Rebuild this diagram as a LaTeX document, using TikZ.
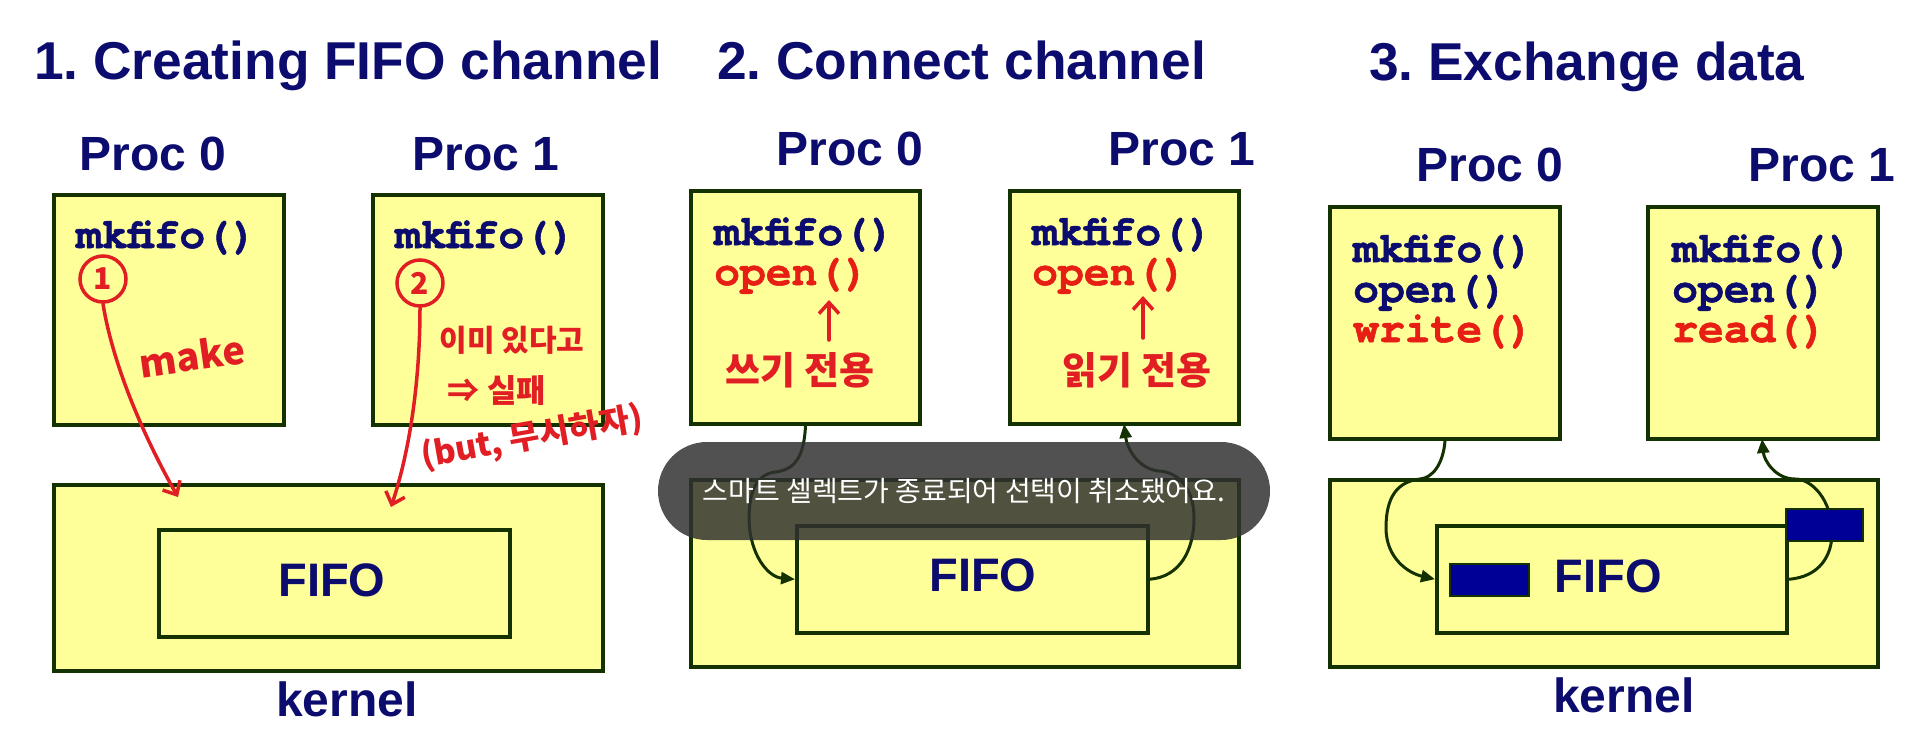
\documentclass[tikz,border=0pt]{standalone}
\usepackage{fontspec}
\setmainfont{Liberation Sans}
\newfontfamily\codefont{texgyrecursor}[Extension=.otf, UprightFont=*-regular, BoldFont=*-bold, BoldFeatures={FakeBold=1.3}]
\newfontfamily\krfont{Noto Sans CJK KR}
\usetikzlibrary{arrows.meta}
\definecolor{navy}{RGB}{12,12,110}
\definecolor{yel}{RGB}{255,255,153}
\definecolor{bdr}{RGB}{20,50,0}
\definecolor{codered}{RGB}{230,30,20}
\definecolor{hred}{RGB}{225,30,35}
\definecolor{fifoblue}{RGB}{0,0,150}
\definecolor{toastbg}{RGB}{48,48,48}
\newcommand\mybox[6]{\node[#6, minimum width={#4-#2}, minimum height={#5-#3}, anchor=north west, inner sep=0] (#1) at (#2,#3) {};}
\frenchspacing
\begin{document}
\begin{tikzpicture}[x=1pt,y=-1pt,
 procbox/.style={draw=bdr, fill=yel, line width=4pt},
 fifobox/.style={draw=bdr, fill=yel, line width=3.5pt},
 blk/.style={draw=bdr, fill=fifoblue, line width=1.5pt},
 ttl/.style={font=\fontsize{53.3}{60}\selectfont\bfseries, text=navy, inner sep=0, anchor=base west},
 proc/.style={font=\fontsize{48}{54}\selectfont\bfseries, text=navy, inner sep=0, anchor=base},
 big/.style={font=\fontsize{47}{52}\selectfont\bfseries, text=navy, inner sep=0},
 code/.style={font=\codefont\fontsize{43}{46}\selectfont\bfseries, text=navy, inner sep=0, anchor=base west},
 codeR/.style={code, text=codered},
 conn/.style={draw=bdr, line width=3pt, -{Triangle[length=14pt,width=12pt]}},
 hw/.style={draw=hred, line width=3.5pt, line cap=round, line join=round},
 harrow/.style={hw, -{Straight Barb[length=11pt,width=20pt,line width=3.5pt]}},
 htext/.style={font=\krfont\fontsize{#1}{#1}\selectfont\bfseries, text=hred, inner sep=0},
 toast/.style={fill=toastbg, fill opacity=0.84, text opacity=1, text=white, rounded corners=49pt, minimum width=612, minimum height=98, inner sep=0, font=\krfont\fontsize{28}{32}\selectfont}
]
\useasboundingbox (0,0) rectangle (1924,739);
\fill[white] (0,0) rectangle (1924,739);

% ---------- Titles ----------
\node[ttl] (t1) at (34,79) {1. Creating FIFO channel};
\node[ttl] (t2) at (717,79) {2. Connect channel};
\node[ttl] (t3) at (1369,80) {3. Exchange data};

% ---------- Panel 1 ----------
\node[proc] (l10) at (153,170) {Proc 0};
\node[proc] (l11) at (486,170) {Proc 1};
\mybox{p10}{52}{193}{282}{423}{procbox}
\mybox{p11}{371}{193}{601}{423}{procbox}
\mybox{k1}{52}{483}{601}{669}{procbox}
\mybox{f1}{157}{528}{508}{635}{fifobox}
\node[big] (ft1) at (332,580) {FIFO};
\node[proc] (kl1) at (347,716) {kernel};
\node[code] (m10) at (76,248) {mkfifo()};
\node[code] (m11) at (395,248) {mkfifo()};

% handwriting panel 1
\node[circle, draw=hred, line width=3.5pt, minimum size=46, htext=30] (c1) at (103,279) {1};
\node[circle, draw=hred, line width=3.5pt, minimum size=46, htext=30] (c2) at (420,283) {2};
\coordinate (a1) at (178,497);
\coordinate (a2) at (391,507);
\draw[harrow] (c1.south) .. controls (112,360) and (140,430) .. (a1);
\draw[harrow] (c2.south) .. controls (420,380) and (410,450) .. (a2);
\node[htext=38, rotate=8] (mk) at (192,356) {make};
\node[htext=30] (h1) at (512,340) {이미 있다고};
\node[htext=32] (h2) at (497,391) {⇒ 실패};
\node[htext=33, rotate=10] (h3) at (532,438) {(but, 무시하자)};

% ---------- Panel 2 ----------
\node[proc] (l20) at (850,165) {Proc 0};
\node[proc] (l21) at (1182,165) {Proc 1};
\mybox{p20}{689}{189}{918}{422}{procbox}
\mybox{p21}{1008}{189}{1237}{422}{procbox}
\mybox{k2}{689}{478}{1237}{665}{procbox}
\mybox{f2}{795}{524}{1146}{631}{fifobox}
\node[big] (ft2) at (983,575) {FIFO};
\node[code] (m20) at (714,245) {mkfifo()};
\node[codeR] (o20) at (714,285) {open()};
\node[code] (m21) at (1032,245) {mkfifo()};
\node[codeR] (o21) at (1032,285) {open()};
\coordinate (e21) at (1124,424);
\draw[conn] (p20.south) .. controls (804,455) and (796,470) .. (775,472)
  .. controls (752,475) and (749,500) .. (749,520)
  .. controls (750,555) and (768,577) .. (f2.west);
\draw[conn] (f2.east) .. controls (1180,577) and (1194,550) .. (1194,518)
  .. controls (1194,488) and (1178,472) .. (1159,471)
  .. controls (1138,469) and (1127,448) .. (e21);

% handwriting panel 2
\node[htext=38] (w0) at (800,370) {쓰기 전용};
\node[htext=38] (r1) at (1137,370) {읽기 전용};
\coordinate (u0) at (829,300);
\coordinate (u1) at (1143,296);
\draw[harrow] (829,340) -- (u0);
\draw[harrow] (1143,338) -- (u1);

% ---------- Panel 3 ----------
\node[proc] (l30) at (1490,181) {Proc 0};
\node[proc] (l31) at (1822,181) {Proc 1};
\mybox{p30}{1328}{205}{1558}{437}{procbox}
\mybox{p31}{1646}{205}{1876}{437}{procbox}
\mybox{k3}{1328}{478}{1876}{665}{procbox}
\mybox{f3}{1435}{524}{1785}{631}{fifobox}
\node[big] (ft3) at (1608,576) {FIFO};
\node[proc] (kl3) at (1624,712) {kernel};
\node[code] (m30) at (1353,262) {mkfifo()};
\node[code] (o30) at (1353,302) {open()};
\node[codeR] (w30) at (1353,342) {write()};
\node[code] (m31) at (1672,262) {mkfifo()};
\node[code] (o31) at (1672,302) {open()};
\node[codeR] (r31) at (1672,342) {read()};
\coordinate (e31) at (1762,439);
\draw[conn] (p30.south) .. controls (1443,465) and (1432,478) .. (1420,479)
  .. controls (1392,482) and (1386,505) .. (1386,528)
  .. controls (1386,558) and (1408,573) .. (f3.west);
\draw[conn] (f3.east) .. controls (1820,577) and (1832,555) .. (1832,533)
  .. controls (1832,500) and (1812,479) .. (1795,479)
  .. controls (1775,479) and (1764,460) .. (e31);
\mybox{b1}{1449}{563}{1528}{595}{blk}
\mybox{b2}{1785}{508}{1862}{540}{blk}

% ---------- Toast overlay ----------
\node[toast] (toast) at (964,491) {스마트 셀렉트가 종료되어 선택이 취소됐어요.};
\end{tikzpicture}
\end{document}
